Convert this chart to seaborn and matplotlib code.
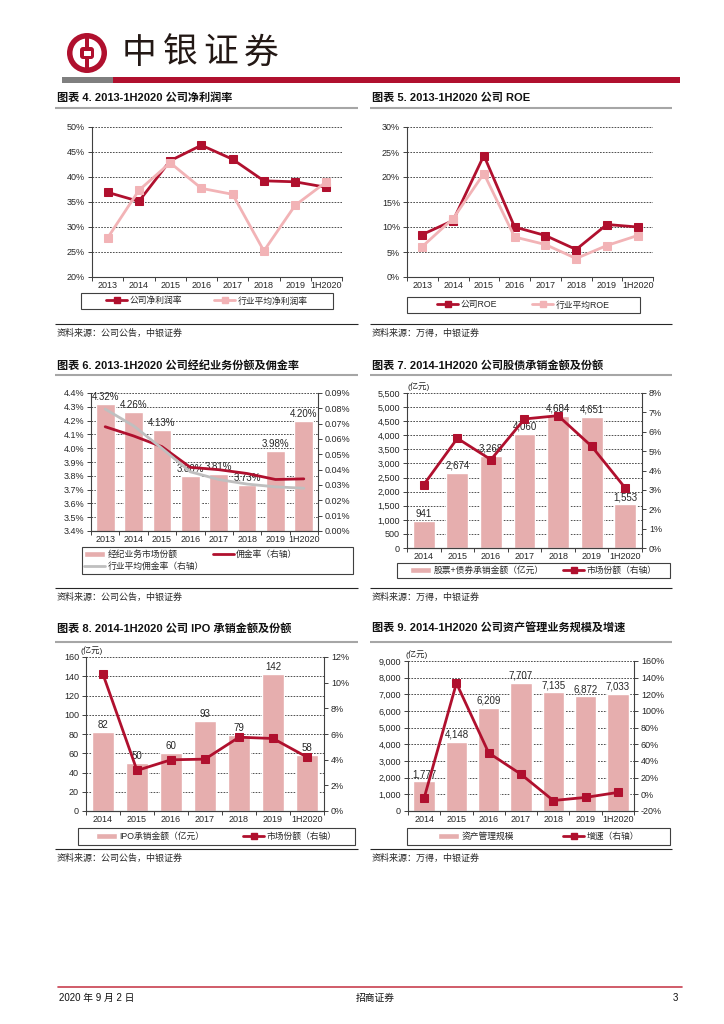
import numpy as np
import matplotlib
matplotlib.use("Agg")
import matplotlib.pyplot as plt
import seaborn as sns
from matplotlib.lines import Line2D
from matplotlib.patches import Patch, Circle, Rectangle, FancyBboxPatch
from matplotlib.ticker import FuncFormatter, MultipleLocator

# ---------------- data ----------------
years_13 = ['2013', '2014', '2015', '2016', '2017', '2018', '2019', '1H2020']
years_14 = ['2014', '2015', '2016', '2017', '2018', '2019', '1H2020']

net_margin_company = [36.9, 35.1, 43.2, 46.3, 43.5, 39.2, 39.0, 37.9]
net_margin_industry = [27.8, 37.3, 42.8, 37.7, 36.5, 25.2, 34.3, 39.0]

roe_company = [8.5, 11.3, 24.3, 10.0, 8.3, 5.5, 10.5, 10.0]
roe_industry = [6.1, 11.7, 20.7, 8.0, 6.5, 3.7, 6.3, 8.3]

brokerage_share = [4.32, 4.26, 4.13, 3.80, 3.81, 3.73, 3.98, 4.20]
commission_company = [0.068, 0.062, 0.055, 0.0415, 0.040, 0.0375, 0.0336, 0.034]
commission_industry = [0.0795, 0.0686, 0.0539, 0.0386, 0.0336, 0.0306, 0.0288, 0.0279]

underwriting_amount = [941, 2674, 3268, 4060, 4684, 4651, 1553]
underwriting_share = [3.27, 5.66, 4.56, 6.66, 6.83, 5.25, 3.10]

ipo_amount = [82, 50, 60, 93, 79, 142, 58]
ipo_share = [10.65, 3.16, 3.99, 4.04, 5.75, 5.65, 4.20]

am_scale = [1777, 4148, 6209, 7707, 7135, 6872, 7033]
am_growth = [-4.4, 133.4, 49.7, 24.1, -7.4, -3.7, 2.3]

# ---------------- style ----------------
W, H = 724, 1024
RED = '#B0102E'
PINK = '#F2B3B6'
BAR = '#E6AEAE'
GRAY = '#BFBFBF'
INK = '#262626'

sns.set_theme(style='ticks')
plt.rcParams['font.family'] = ['Liberation Sans Narrow', 'Liberation Sans', 'Noto Sans CJK SC', 'DejaVu Sans']
plt.rcParams['axes.unicode_minus'] = False
plt.rcParams['axes.edgecolor'] = '#404040'
plt.rcParams['axes.linewidth'] = 0.8
plt.rcParams['xtick.labelsize'] = 6.5
plt.rcParams['ytick.labelsize'] = 6.5
plt.rcParams['xtick.labelcolor'] = INK
plt.rcParams['ytick.labelcolor'] = INK

fig = plt.figure(figsize=(W / 100, H / 100), dpi=100)
bg = fig.add_axes([0, 0, 1, 1], zorder=-1)
bg.set_xlim(0, W)
bg.set_ylim(H, 0)
bg.axis('off')


def box(x0, y0, x1, y1):
    return [x0 / W, 1 - y1 / H, (x1 - x0) / W, (y1 - y0) / H]


def pct(decimals):
    return FuncFormatter(lambda v, _: f'{v:.{decimals}f}%')


def cat_axis(ax, labels):
    n = len(labels)
    ax.set_xticks(np.arange(n + 1) - 0.5)
    ax.set_xticklabels([])
    ax.set_xticks(np.arange(n), minor=True)
    ax.set_xticklabels(labels, minor=True)
    ax.set_xlim(-0.5, n - 0.5)
    ax.tick_params(axis='x', which='major', length=3, width=0.7, color='#404040')
    ax.tick_params(axis='x', which='minor', length=0, pad=3)
    ax.set_xlabel('')


def left_axis(ax, lo, hi, step, fmt):
    ax.set_ylim(lo, hi)
    ax.yaxis.set_major_locator(MultipleLocator(step))
    ax.yaxis.set_major_formatter(fmt)
    ax.yaxis.grid(True, linestyle=(0, (2, 1.5)), color='#333333', lw=0.6)
    ax.set_axisbelow(True)
    ax.tick_params(axis='y', length=3, width=0.7, pad=2, color='#404040')
    ax.set_ylabel('')
    ax.spines['top'].set_visible(False)
    ax.spines['right'].set_visible(False)


def right_axis(ax2, lo, hi, step, fmt):
    ax2.set_ylim(lo, hi)
    ax2.yaxis.set_major_locator(MultipleLocator(step))
    ax2.yaxis.set_major_formatter(fmt)
    ax2.grid(False)
    ax2.tick_params(axis='y', length=3, width=0.7, pad=2, color='#404040')
    ax2.set_ylabel('')
    ax2.spines['top'].set_visible(False)
    ax2.spines['left'].set_visible(False)


def add_legend(handles, labels, x0, y0, x1, y1, colsp, left=None):
    # frame drawn separately so the entries can sit where the reference has them
    bg.add_patch(Rectangle((x0, y0), x1 - x0, y1 - y0, fill=False, ec='#404040', lw=0.8))
    cy = 1 - (y0 + y1) / 2 / H
    if left is None:
        loc, anchor = 'center', ((x0 + x1) / 2 / W, cy)
    else:
        loc, anchor = 'center left', (left / W, cy)
    fig.legend(handles, labels, loc=loc, bbox_to_anchor=anchor, bbox_transform=fig.transFigure,
               ncol=2, fontsize=6.3, frameon=False, borderpad=0, borderaxespad=0,
               handlelength=2.4, handletextpad=0.3, labelspacing=0.35, columnspacing=colsp)


def unit_label(ax, dx):
    ax.annotate('(亿元)', xy=(0, 1), xycoords='axes fraction', xytext=(dx, 1.5),
                textcoords='offset points', fontsize=6, ha='left', va='bottom', color=INK)


def section(x0, x1, title, y_title, y_line, y_sep, y_src, source):
    bg.text(x0 + 2, y_title, title, fontsize=8, weight='bold', va='center', color='#111111',
            family=['Liberation Sans', 'Noto Sans CJK SC'])
    bg.plot([x0, x1], [y_line, y_line], color='#A6A6A6', lw=1.5, solid_capstyle='butt')
    bg.plot([x0, x1], [y_sep, y_sep], color=INK, lw=0.8, solid_capstyle='butt')
    bg.text(x0 + 2, y_src, source, fontsize=6.5, style='italic', va='center', color=INK)


def line_handle(color, marker=True):
    return Line2D([], [], color=color, lw=2, marker='s' if marker else None,
                  markersize=5, markeredgecolor=color)


src_a = '资料来源：公司公告，中银证券'
src_b = '资料来源：万得，中银证券'

# ---------------- header / footer ----------------
bg.add_patch(Circle((87, 53), 20, color=RED, lw=0))
bg.add_patch(Circle((87, 53), 14.5, color='white', lw=0))
bg.add_patch(FancyBboxPatch((80, 47), 14, 12, boxstyle='round,pad=0,rounding_size=3', color=RED, lw=0))
bg.add_patch(Rectangle((83.5, 50.5), 7, 5, color='white', lw=0))
bg.add_patch(Rectangle((85, 38), 4, 9, color=RED, lw=0))
bg.add_patch(Rectangle((85, 59), 4, 9, color=RED, lw=0))
for i, ch in enumerate('中银证券'):
    bg.text(122 + i * 40.5, 53, ch, fontsize=25, va='center', ha='left', color='#231815',
            family='Noto Sans CJK SC')
bg.add_patch(Rectangle((62, 77), 51, 6, color='#7F7F7F', lw=0))
bg.add_patch(Rectangle((113, 77), 567, 6, color=RED, lw=0))

bg.plot([58, 682], [986.7, 986.7], color='#C8404F', lw=1.2)
bg.text(59, 998, '2020 年 9 月 2 日', fontsize=7, va='center', color='#111111')
bg.text(375, 998, '招商证券', fontsize=7, va='center', ha='center', color='#111111')
bg.text(678, 998, '3', fontsize=7, va='center', ha='right', color='#111111')

# ---------------- sections ----------------
LX0, LX1, RX0, RX1 = 55, 358, 370, 672
section(LX0, LX1, '图表 4. 2013-1H2020 公司净利润率', 97.5, 108, 324, 333, src_a)
section(RX0, RX1, '图表 5. 2013-1H2020 公司 ROE', 97.5, 108, 324, 333, src_b)
section(LX0, LX1, '图表 6. 2013-1H2020 公司经纪业务份额及佣金率', 365, 374.5, 588, 597, src_a)
section(RX0, RX1, '图表 7. 2014-1H2020 公司股债承销金额及份额', 365, 374.5, 588, 597, src_b)
section(LX0, LX1, '图表 8. 2014-1H2020 公司 IPO 承销金额及份额', 628, 642, 849, 858, src_a)
section(RX0, RX1, '图表 9. 2014-1H2020 公司资产管理业务规模及增速', 628, 642, 849, 858, src_b)

x8 = np.arange(len(years_13))
x7 = np.arange(len(years_14))

# ---- chart 4: net margin ----
ax = fig.add_axes(box(92, 126.7, 342, 277))
sns.lineplot(x=x8, y=net_margin_company, ax=ax, color=RED, lw=2, marker='s', markersize=5.5,
             markeredgecolor=RED, legend=False)
sns.lineplot(x=x8, y=net_margin_industry, ax=ax, color=PINK, lw=2, marker='s', markersize=5.5,
             markeredgecolor=PINK, legend=False)
left_axis(ax, 20, 50, 5, pct(0))
cat_axis(ax, years_13)
add_legend([line_handle(RED), line_handle(PINK)], ['公司净利润率', '行业平均净利润率'],
           81, 293, 333, 309, 3.6)

# ---- chart 5: ROE ----
ax = fig.add_axes(box(407, 127, 653, 277))
sns.lineplot(x=x8, y=roe_company, ax=ax, color=RED, lw=2, marker='s', markersize=5.5,
             markeredgecolor=RED, legend=False)
sns.lineplot(x=x8, y=roe_industry, ax=ax, color=PINK, lw=2, marker='s', markersize=5.5,
             markeredgecolor=PINK, legend=False)
left_axis(ax, 0, 30, 5, pct(0))
cat_axis(ax, years_13)
add_legend([line_handle(RED), line_handle(PINK)], ['公司ROE', '行业平均ROE'],
           407, 297, 640, 313, 4.0)

# ---- chart 6: brokerage share & commission ----
ax = fig.add_axes(box(91, 393, 318, 531))
sns.barplot(x=years_13, y=brokerage_share, ax=ax, color=BAR, saturation=1, width=0.66)
ax.bar_label(ax.containers[0], labels=[f'{v:.2f}%' for v in brokerage_share], padding=1.5,
             fontsize=7, color=INK)
left_axis(ax, 3.4, 4.4, 0.1, pct(1))
ax2 = ax.twinx()
sns.lineplot(x=x8, y=commission_company, ax=ax2, color=RED, lw=2, legend=False)
sns.lineplot(x=x8, y=commission_industry, ax=ax2, color=GRAY, lw=2, legend=False)
right_axis(ax2, 0, 0.09, 0.01, pct(2))
cat_axis(ax, years_13)
add_legend([Patch(facecolor=BAR), line_handle(GRAY, False), line_handle(RED, False)],
           ['经纪业务市场份额', '行业平均佣金率（右轴）', '佣金率（右轴）'],
           82, 547, 353, 574, 1.0, left=84)

# ---- chart 7: underwriting ----
ax = fig.add_axes(box(407, 393, 642, 548))
sns.barplot(x=years_14, y=underwriting_amount, ax=ax, color=BAR, saturation=1, width=0.65)
ax.bar_label(ax.containers[0], labels=[f'{v:,}' for v in underwriting_amount], padding=1.5,
             fontsize=7, color=INK)
left_axis(ax, 0, 5500, 500, FuncFormatter(lambda v, _: f'{v:,.0f}'))
ax2 = ax.twinx()
sns.lineplot(x=x7, y=underwriting_share, ax=ax2, color=RED, lw=2, marker='s', markersize=5.5,
             markeredgecolor=RED, legend=False)
right_axis(ax2, 0, 8, 1, pct(0))
cat_axis(ax, years_14)
unit_label(ax, 0)
add_legend([Patch(facecolor=BAR), line_handle(RED)], ['股票+债券承销金额（亿元）', '市场份额（右轴）'],
           397, 563, 670, 578, 2.2)

# ---- chart 8: IPO underwriting ----
ax = fig.add_axes(box(86, 657, 324, 811))
sns.barplot(x=years_14, y=ipo_amount, ax=ax, color=BAR, saturation=1, width=0.64)
ax.bar_label(ax.containers[0], labels=[f'{v:,}' for v in ipo_amount], padding=1.5,
             fontsize=7, color=INK)
left_axis(ax, 0, 160, 20, FuncFormatter(lambda v, _: f'{v:,.0f}'))
ax2 = ax.twinx()
sns.lineplot(x=x7, y=ipo_share, ax=ax2, color=RED, lw=2, marker='s', markersize=5.5,
             markeredgecolor=RED, legend=False)
right_axis(ax2, 0, 12, 2, pct(0))
cat_axis(ax, years_14)
unit_label(ax, -4)
add_legend([Patch(facecolor=BAR), line_handle(RED)], ['IPO承销金额（亿元）', '市场份额（右轴）'],
           78, 828, 355, 845, 4.4)

# ---- chart 9: asset management ----
ax = fig.add_axes(box(408, 661, 634, 811))
sns.barplot(x=years_14, y=am_scale, ax=ax, color=BAR, saturation=1, width=0.66)
ax.bar_label(ax.containers[0], labels=[f'{v:,}' for v in am_scale], padding=1.5,
             fontsize=7, color=INK)
left_axis(ax, 0, 9000, 1000, FuncFormatter(lambda v, _: f'{v:,.0f}'))
ax2 = ax.twinx()
sns.lineplot(x=x7, y=am_growth, ax=ax2, color=RED, lw=2, marker='s', markersize=5.5,
             markeredgecolor=RED, legend=False)
right_axis(ax2, -20, 160, 20, pct(0))
cat_axis(ax, years_14)
unit_label(ax, -2)
add_legend([Patch(facecolor=BAR), line_handle(RED)], ['资产管理规模', '增速（右轴）'],
           407, 828, 670, 845, 5.6)

fig.savefig('out.png', dpi=100)
